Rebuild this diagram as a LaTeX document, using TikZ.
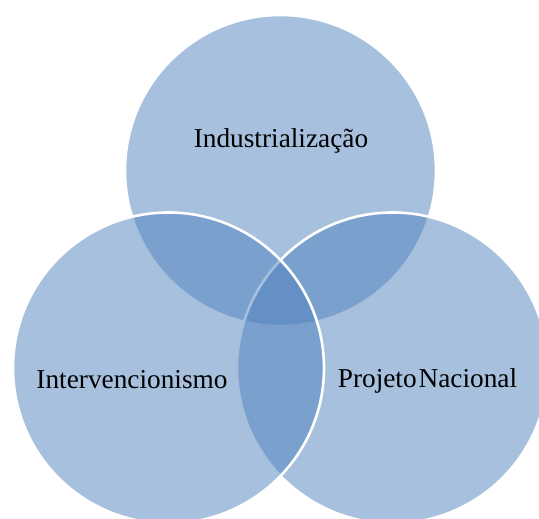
\documentclass[tikz,border=0pt]{standalone}
\usepackage{fontspec}
\setmainfont{Liberation Serif}
\definecolor{vennblue}{HTML}{4F81BD}
\begin{document}
\begin{tikzpicture}[x=1pt,y=-1pt,
  venn/.style={circle, minimum size=311pt, inner sep=0pt, fill=vennblue, fill opacity=0.5, draw=white, line width=2.6pt},
  lbl/.style={anchor=base, text=black, inner sep=0pt, font=\fontsize{27.3}{31}\selectfont}]
\useasboundingbox (0,0) rectangle (539,519);
\clip (0,0) rectangle (539,519);
\node[venn] (ctop) at (280.5,170.5) {};
\node[venn] (cright) at (392.5,368) {};
\node[venn] (cleft) at (168.5,368) {};
\node[lbl] (ltop) at (281,147) {Industrialização};
\node[lbl] (lleft) at (132,388) {Intervencionismo};
\node[lbl] (lright) at (427.5,387) {Projeto\hspace{0.07em}Nacional};
\end{tikzpicture}
\end{document}
